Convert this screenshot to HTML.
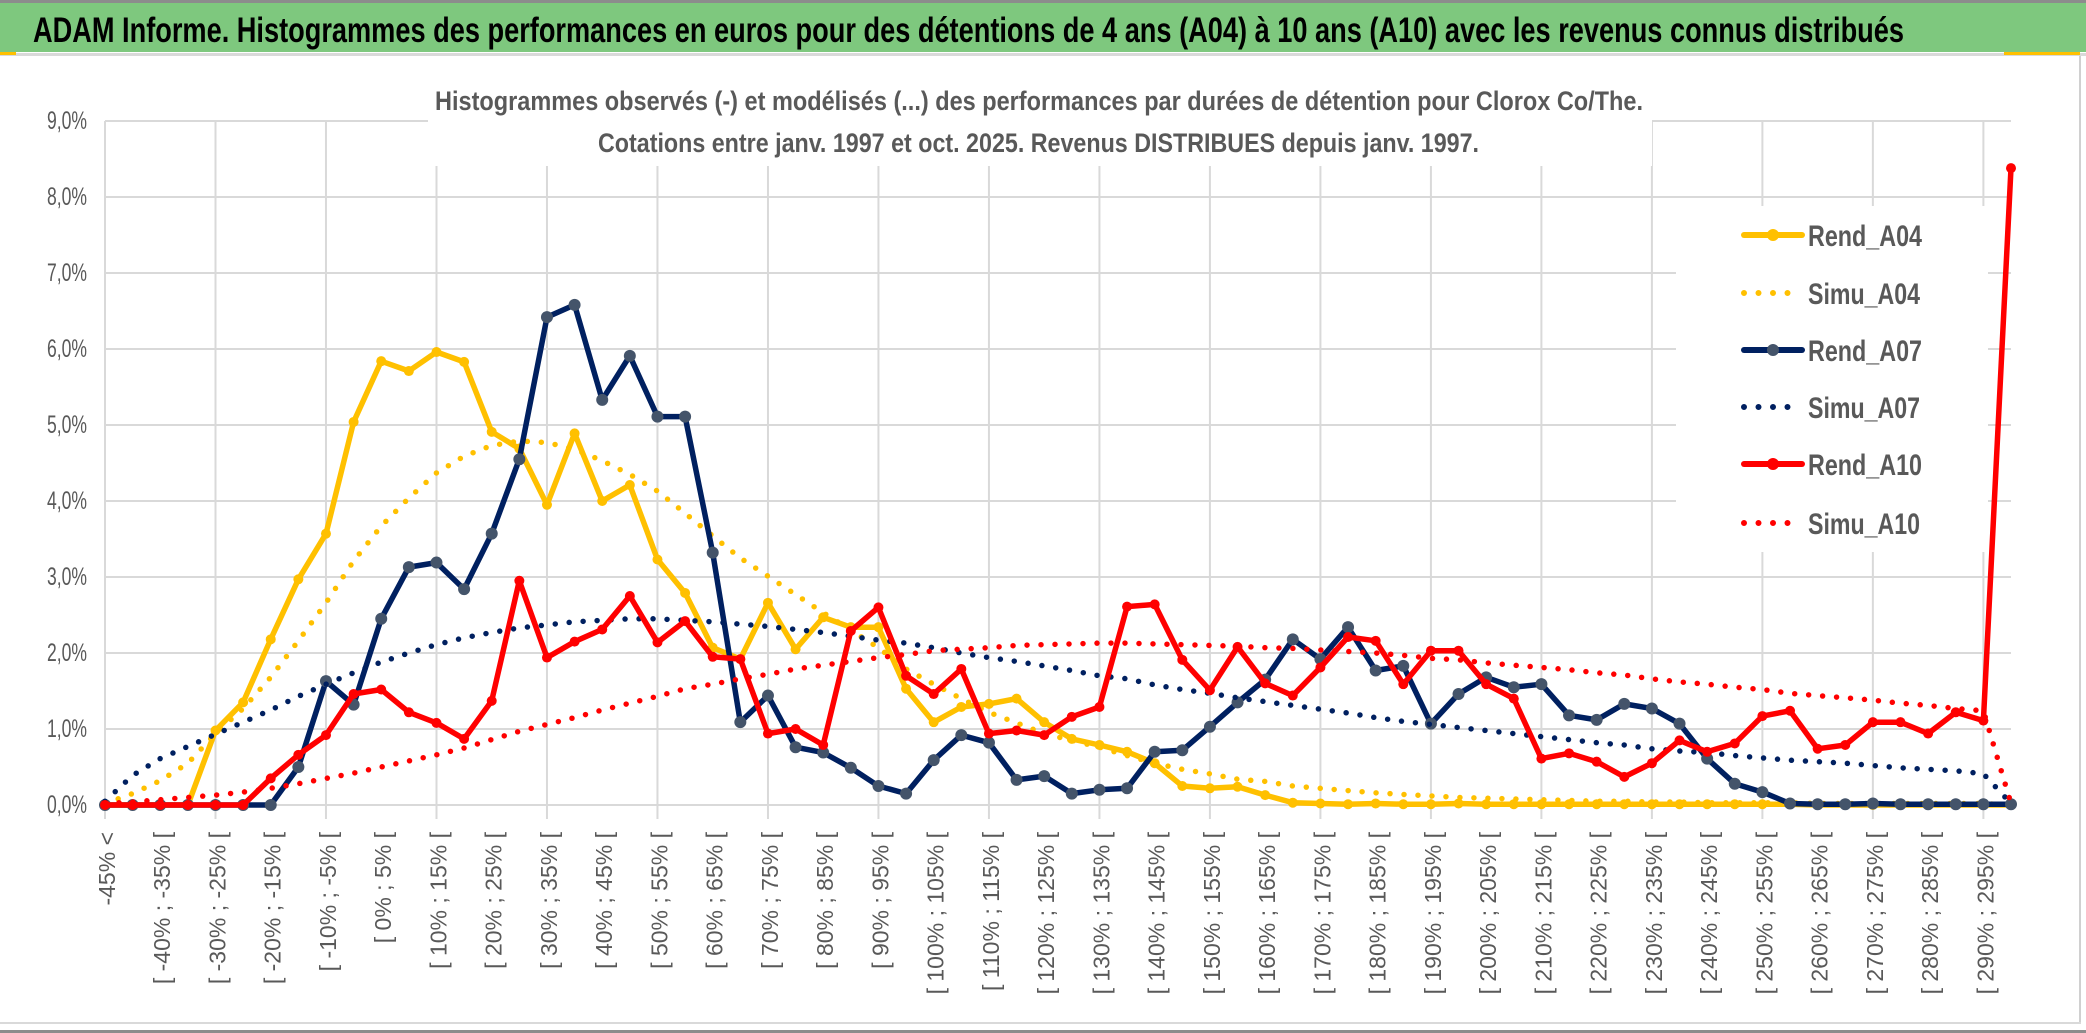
<!DOCTYPE html>
<html><head><meta charset="utf-8"><style>
html,body{margin:0;padding:0;background:#fff;}
svg{display:block;}
text{font-family:"Liberation Sans Narrow","Liberation Sans",sans-serif;}
</style></head><body>
<svg id="chart" width="2086" height="1033" viewBox="0 0 2086 1033" xmlns="http://www.w3.org/2000/svg">
  <rect x="0" y="0" width="2086" height="1033" fill="#fff"/>
  <rect x="0" y="0" width="2086" height="3" fill="#8c8c8c"/>
  <rect x="0" y="3" width="2086" height="49" fill="#7EC87E"/>
  <rect x="0" y="53" width="2086" height="3" fill="#d9d9d9"/>
  <rect x="0" y="52" width="16" height="3" fill="#FFC000"/>
  <rect x="2004" y="52" width="76" height="3" fill="#FFC000"/>
  <rect x="2079" y="56" width="2" height="968" fill="#d0d0d0"/>
  <rect x="0" y="1022" width="2081" height="2" fill="#d9d9d9"/>
  <rect x="0" y="1030" width="2086" height="3" fill="#8c8c8c"/>
  <text x="33" y="42" font-size="35" font-weight="bold" fill="#000" textLength="1871" lengthAdjust="spacingAndGlyphs">ADAM Informe. Histogrammes des performances en euros pour des détentions de 4 ans (A04) à 10 ans (A10) avec les revenus connus distribués</text>
  <g id="grid"></g>
  <rect x="428" y="60" width="1224" height="106" fill="#fff"/>
  <text x="435" y="110" font-size="27" font-weight="bold" fill="#595959" textLength="1208" lengthAdjust="spacingAndGlyphs">Histogrammes observés (-) et modélisés (...) des performances par durées de détention pour Clorox Co/The.</text>
  <text x="598" y="152" font-size="27" font-weight="bold" fill="#595959" textLength="881" lengthAdjust="spacingAndGlyphs">Cotations entre janv. 1997 et oct. 2025. Revenus DISTRIBUES depuis janv. 1997.</text>
  <g id="yaxis"></g>
  <g id="xaxis"></g>
  <rect x="1676" y="206" width="312" height="346" fill="#fff"/>
  <g id="series"></g>
  <g id="legend"></g>
</svg>
<script>
const rendA04 = [0,0,0,0,0.98,1.35,2.18,2.97,3.57,5.04,5.84,5.71,5.96,5.83,4.91,4.69,3.95,4.89,4.0,4.21,3.23,2.79,2.07,1.92,2.66,2.05,2.47,2.34,2.34,1.53,1.09,1.29,1.33,1.40,1.09,0.87,0.79,0.70,0.55,0.25,0.22,0.24,0.13,0.03,0.02,0.01,0.02,0.01,0.01,0.02,0.01,0.01,0.01,0.01,0.01,0.01,0.01,0.01,0.01,0.01,0.01,0.01,0,0,0,0,0,0,0,0];
const simuA04 = [0.02,0.15,0.32,0.55,0.94,1.27,1.68,2.16,2.66,3.21,3.67,4.04,4.37,4.59,4.73,4.79,4.77,4.68,4.53,4.35,4.13,3.84,3.54,3.25,3.01,2.77,2.53,2.30,2.07,1.79,1.59,1.40,1.22,1.08,0.94,0.85,0.76,0.65,0.55,0.47,0.41,0.34,0.31,0.25,0.22,0.19,0.16,0.14,0.12,0.10,0.09,0.08,0.07,0.06,0.05,0.05,0.04,0.04,0.03,0.03,0.03,0.03,0.02,0.02,0.02,0.02,0.02,0.02,0.02,0.0];
const rendA07 = [0,0,0,0,0,0,0,0.5,1.63,1.32,2.45,3.13,3.19,2.84,3.57,4.55,6.42,6.58,5.33,5.91,5.11,5.11,3.32,1.09,1.44,0.76,0.69,0.49,0.25,0.15,0.59,0.92,0.82,0.33,0.38,0.15,0.20,0.22,0.70,0.72,1.03,1.35,1.65,2.18,1.92,2.34,1.77,1.83,1.07,1.46,1.68,1.55,1.59,1.18,1.12,1.33,1.27,1.07,0.61,0.28,0.17,0.02,0.01,0.01,0.02,0.01,0.01,0.01,0.01,0.01];
const simuA07 = [0.05,0.39,0.61,0.77,0.93,1.09,1.25,1.43,1.59,1.74,1.88,2.0,2.11,2.20,2.27,2.33,2.37,2.41,2.43,2.45,2.45,2.43,2.41,2.38,2.35,2.31,2.27,2.22,2.17,2.13,2.07,2.0,1.94,1.89,1.83,1.77,1.70,1.66,1.58,1.52,1.47,1.41,1.36,1.31,1.26,1.21,1.15,1.10,1.06,1.02,0.98,0.94,0.90,0.86,0.82,0.79,0.74,0.71,0.69,0.65,0.62,0.59,0.57,0.55,0.52,0.49,0.47,0.45,0.41,0.02];
const rendA10 = [0,0,0,0,0,0,0.35,0.66,0.92,1.46,1.52,1.22,1.08,0.87,1.37,2.95,1.94,2.15,2.31,2.75,2.14,2.42,1.95,1.92,0.94,1.0,0.79,2.29,2.6,1.70,1.46,1.79,0.94,0.98,0.92,1.16,1.29,2.61,2.64,1.91,1.51,2.08,1.60,1.44,1.81,2.21,2.16,1.59,2.03,2.03,1.59,1.40,0.61,0.68,0.57,0.37,0.55,0.85,0.70,0.81,1.17,1.24,0.74,0.79,1.09,1.09,0.94,1.22,1.11,8.38];
const simuA10 = [0.02,0.04,0.07,0.10,0.13,0.17,0.22,0.28,0.35,0.42,0.50,0.58,0.66,0.75,0.86,0.97,1.06,1.15,1.25,1.34,1.43,1.53,1.59,1.66,1.72,1.79,1.84,1.89,1.94,1.98,2.03,2.05,2.07,2.10,2.11,2.12,2.13,2.13,2.12,2.11,2.10,2.09,2.07,2.06,2.04,2.02,2.0,1.97,1.93,1.91,1.87,1.84,1.81,1.78,1.74,1.71,1.66,1.62,1.59,1.55,1.52,1.47,1.44,1.41,1.38,1.34,1.31,1.27,1.24,0.02];
const yTicks = [0,1,2,3,4,5,6,7,8,9];
const yTickLabels = ["0,0%","1,0%","2,0%","3,0%","4,0%","5,0%","6,0%","7,0%","8,0%","9,0%"];
const lowerBounds = [-45,-40,-35,-30,-25,-20,-15,-10,-5,0,5,10,15,20,25,30,35,40,45,50,55,60,65,70,75,80,85,90,95,100,105,110,115,120,125,130,135,140,145,150,155,160,165,170,175,180,185,190,195,200,205,210,215,220,225,230,235,240,245,250,255,260,265,270,275,280,285,290,295];
const categories = ["-45% <"].concat(lowerBounds.map(function(b){return "[ " + b + "% ; " + (b+5) + "% [";}));

const NS = "http://www.w3.org/2000/svg";
const X0 = 105, X1 = 2011, Y0 = 805, Y9 = 121;
function xScale(i){ return X0 + i * (X1 - X0) / (categories.length - 1); }
function yScale(v){ return Y0 - v * (Y0 - Y9) / 9; }
function mk(tag, attrs, parent){ const e = document.createElementNS(NS, tag); for (const k in attrs) e.setAttribute(k, attrs[k]); parent.appendChild(e); return e; }

const grid = document.getElementById('grid');
yTicks.forEach(function(t){
  const l = mk('line', {x1: X0, x2: X1, y1: yScale(t), y2: yScale(t), stroke: '#d9d9d9', 'stroke-width': 2}, grid);
  
  
});
for (let i = 0; i < categories.length; i += 4) {
  const l = mk('line', {x1: xScale(i), x2: xScale(i), y1: Y9, y2: Y0 + 14, stroke: '#d9d9d9', 'stroke-width': 2}, grid);
  
  
}

const yaxis = document.getElementById('yaxis');
yTicks.forEach(function(t, k){
  const tx = mk('text', {x: 87, y: yScale(t) + 8, 'font-size': 25, fill: '#595959', 'text-anchor': 'end', textLength: 40, lengthAdjust: 'spacingAndGlyphs'}, yaxis);
  tx.textContent = yTickLabels[k];
  
  
});

const xaxis = document.getElementById('xaxis');
for (let i = 0; i < categories.length; i += 2) {
  const x = xScale(i) + 2, y = 832;
  const tx = mk('text', {x: x, y: y, 'font-size': 23, fill: '#595959', 'text-anchor': 'end', 'dominant-baseline': 'central', 'font-family': '"Liberation Sans", sans-serif', transform: 'rotate(-90 ' + x + ' ' + y + ')'}, xaxis);
  tx.textContent = categories[i];
  
  
}

const series = document.getElementById('series');
function pts(arr){ return arr.map(function(v, i){ return xScale(i).toFixed(1) + ',' + yScale(v).toFixed(1); }).join(' '); }
function solid(arr, color, mColor, r, name){
  const g = mk('g', {}, series);
  
  
  const pl = mk('polyline', {points: pts(arr), fill: 'none', stroke: color, 'stroke-width': 5.5, 'stroke-linejoin': 'round'}, g);
  
  
  arr.forEach(function(v, i){
    const c = mk('circle', {cx: xScale(i), cy: yScale(v), r: r, fill: mColor}, g);
    
    
  });
}
function dotted(arr, color, name){
  const pl = mk('polyline', {points: pts(arr), fill: 'none', stroke: color, 'stroke-width': 5.5, 'stroke-linecap': 'round', 'stroke-dasharray': '0 14'}, series);
  
  
}
solid(rendA04, '#FFC000', '#FFC000', 5, 'rend-a04');
dotted(simuA04, '#FFC000', 'simu-a04');
solid(rendA07, '#002060', '#44546A', 6, 'rend-a07');
dotted(simuA07, '#002060', 'simu-a07');
solid(rendA10, '#FF0000', '#FF0000', 5, 'rend-a10');
dotted(simuA10, '#FF0000', 'simu-a10');

const legend = document.getElementById('legend');
const legendItems = [
  ['Rend_A04', '#FFC000', '#FFC000', true],
  ['Simu_A04', '#FFC000', '#FFC000', false],
  ['Rend_A07', '#002060', '#44546A', true],
  ['Simu_A07', '#002060', '#002060', false],
  ['Rend_A10', '#FF0000', '#FF0000', true],
  ['Simu_A10', '#FF0000', '#FF0000', false]
];
const legendY = [235, 293, 350, 407, 464, 523];
legendItems.forEach(function(it, k){
  const y = legendY[k];
  const g = mk('g', {}, legend);
  
  
  if (it[3]) {
    mk('line', {x1: 1744, x2: 1802, y1: y, y2: y, stroke: it[1], 'stroke-width': 6, 'stroke-linecap': 'round'}, g);
    mk('circle', {cx: 1773, cy: y, r: 6, fill: it[2]}, g);
  } else {
    mk('line', {x1: 1744, x2: (k === 5 ? 1800 : 1788), y1: y, y2: y, stroke: it[1], 'stroke-width': 6, 'stroke-linecap': 'round', 'stroke-dasharray': '0 14.5'}, g);
  }
  const tx = mk('text', {x: 1808, y: y + 11, 'font-size': 30, 'font-weight': 'bold', fill: '#595959', textLength: it[0].indexOf('Rend') === 0 ? 114 : 112, lengthAdjust: 'spacingAndGlyphs'}, g);
  tx.textContent = it[0];
});
</script>
</body></html>
